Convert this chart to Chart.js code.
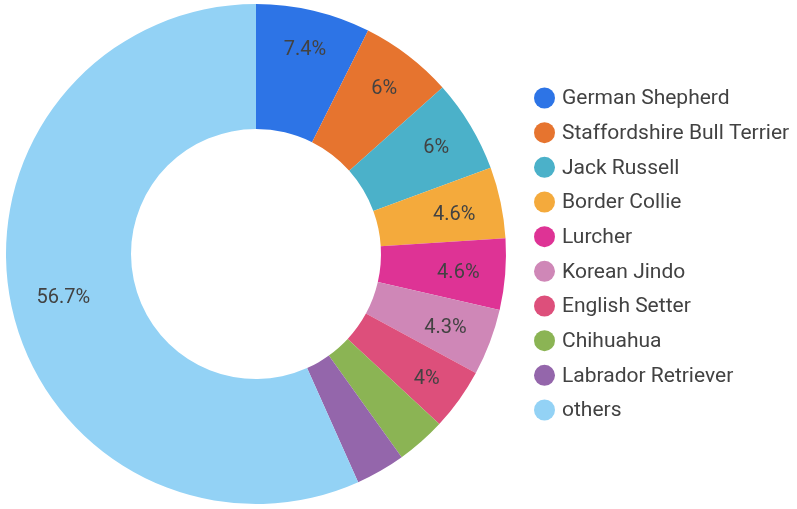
<!DOCTYPE html>
<html>
<head>
<meta charset="utf-8">
<script src="https://cdn.jsdelivr.net/npm/chart.js@4/dist/chart.umd.min.js"></script>
<style>
  html, body { margin: 0; padding: 0; background: #fff; }
  #wrap { width: 797px; height: 509px; position: relative; }
</style>
</head>
<body>
<div id="wrap"><canvas id="chart-razas"></canvas></div>
<script>
// Razas y porcentajes
var razas = [
  'German Shepherd', 'Staffordshire Bull Terrier', 'Jack Russell', 'Border Collie',
  'Lurcher', 'Korean Jindo', 'English Setter', 'Chihuahua', 'Labrador Retriever', 'others'
];
var porcentajes = [7.4, 6, 6, 4.6, 4.6, 4.3, 4, 3.2, 3.2, 56.7];
var colores = [
  '#2d74e6', '#e6742f', '#4bb1c9', '#f4aa3c', '#de3395',
  '#cf87b7', '#dd4f7b', '#8bb454', '#9466ab', '#93d2f5'
];

var FUENTE = 'Roboto, "Noto Sans", sans-serif';
var UMBRAL_ETIQUETA = 4; // no se rotulan porciones menores

// Etiquetas de porcentaje dentro de cada porción
var etiquetasPorcion = {
  id: 'etiquetasPorcion',
  afterDatasetsDraw: function(chart) {
    var ctx = chart.ctx;
    var meta = chart.getDatasetMeta(0);
    ctx.save();
    ctx.font = '20px ' + FUENTE;
    ctx.fillStyle = '#424242';
    ctx.textAlign = 'center';
    ctx.textBaseline = 'middle';
    meta.data.forEach(function(arc, i) {
      var v = porcentajes[i];
      if (v < UMBRAL_ETIQUETA) return;
      var txt = v + '%';
      var m = ctx.measureText(txt);
      var w = m.width / 2;
      var h = 7.5;
      var ang = (arc.startAngle + arc.endAngle) / 2;
      var limite = arc.outerRadius * 0.9;
      // acercar la etiqueta al centro hasta que su caja quepa
      var r = limite;
      var cx, cy;
      for (; r > arc.innerRadius; r -= 0.5) {
        cx = Math.cos(ang) * r;
        cy = Math.sin(ang) * r;
        var maxD = Math.max(
          Math.hypot(cx - w, cy - h), Math.hypot(cx + w, cy - h),
          Math.hypot(cx - w, cy + h), Math.hypot(cx + w, cy + h)
        );
        if (maxD <= limite) break;
      }
      ctx.fillText(txt, arc.x + cx, arc.y + cy + 2.5);
    });
    ctx.restore();
  }
};

// Leyenda a la derecha con marcadores circulares
var leyenda = {
  id: 'leyendaCirculos',
  afterDraw: function(chart) {
    var ctx = chart.ctx;
    ctx.save();
    ctx.font = '21px ' + FUENTE;
    ctx.textBaseline = 'middle';
    razas.forEach(function(nombre, i) {
      var y = 98 + i * 34.67;
      ctx.beginPath();
      ctx.arc(544.5, y, 10.5, 0, Math.PI * 2);
      ctx.fillStyle = colores[i];
      ctx.fill();
      ctx.fillStyle = '#424242';
      ctx.fillText(nombre, 562, y + 1);
    });
    ctx.restore();
  }
};

new Chart(document.getElementById('chart-razas'), {
  type: 'doughnut',
  data: {
    labels: razas,
    datasets: [{
      data: porcentajes,
      backgroundColor: colores,
      borderWidth: 0
    }]
  },
  options: {
    responsive: true,
    maintainAspectRatio: false,
    animation: false,
    cutout: '50%',
    layout: {
      padding: { left: 6, right: 291, top: 4, bottom: 5 }
    },
    plugins: {
      legend: { display: false },
      tooltip: { enabled: false }
    }
  },
  plugins: [etiquetasPorcion, leyenda]
});
</script>
</body>
</html>
